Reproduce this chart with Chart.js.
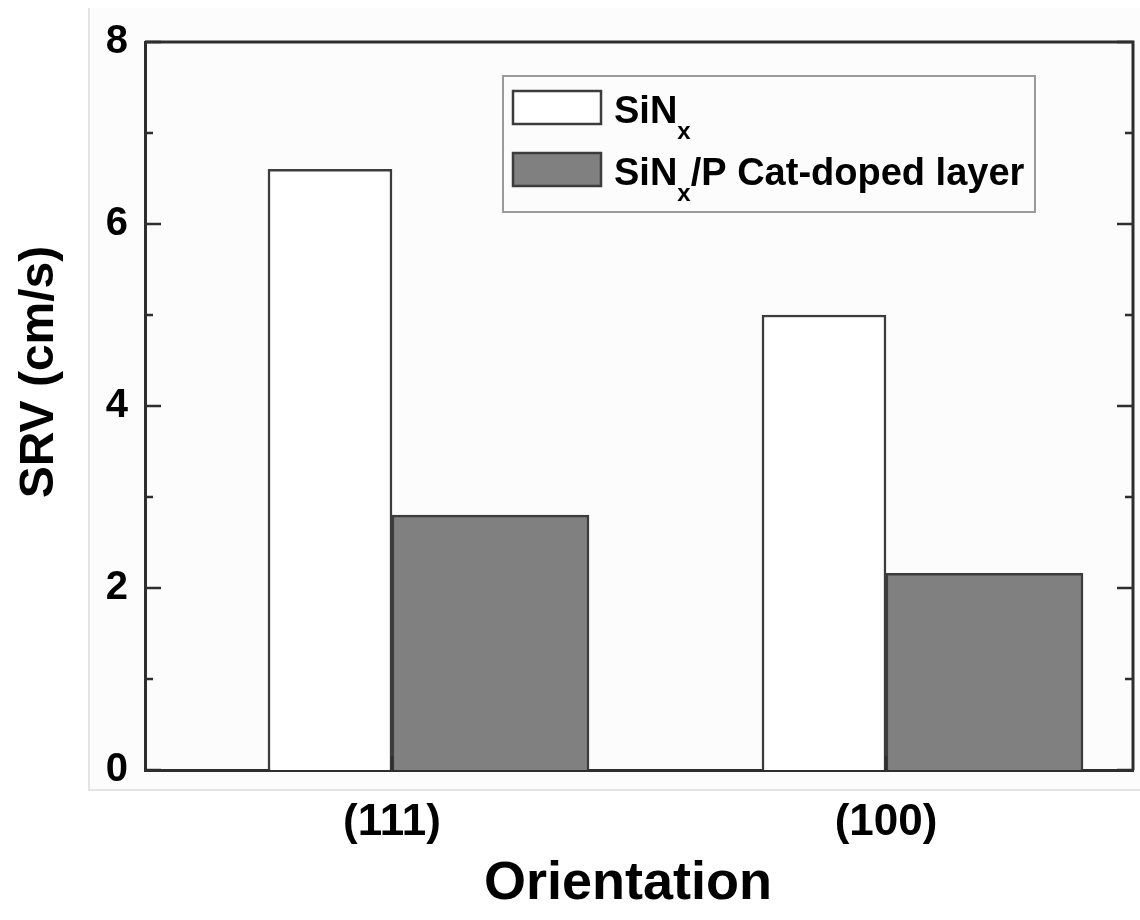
<!DOCTYPE html>
<html>
<head>
<meta charset="utf-8">
<script src="https://cdn.jsdelivr.net/npm/chart.js@4.4.1/dist/chart.umd.min.js"></script>
<style>
  html, body { margin: 0; padding: 0; background: #fff; }
  #wrap { width: 1140px; height: 920px; }
</style>
</head>
<body>
<div id="wrap"><canvas id="srv-chart" width="1140" height="920"></canvas></div>
<script>
  // data
  const categories = ['(111)', '(100)'];
  const sinxSRV = [6.6, 5.0];
  const dopedSRV = [2.8, 2.16];
  const yTicks = [0, 2, 4, 6, 8];
  // "_x" marks a subscript x
  const seriesNames = ['SiN_x', 'SiN_x/P Cat-doped layer'];

  const FONT = 'Arial, "Liberation Sans", Helvetica, sans-serif';
  const AXIS = '#2e2e2e';

  // draws a label where "_x" becomes a subscript
  function drawRich(ctx, text, x, y, size) {
    const parts = text.split('_');
    ctx.textBaseline = 'alphabetic';
    ctx.textAlign = 'left';
    parts.forEach((p, i) => {
      if (i > 0) {
        ctx.font = 'bold ' + Math.round(size * 0.62) + 'px ' + FONT;
        ctx.fillText(p[0], x, y + size * 0.42);
        x += ctx.measureText(p[0]).width;
        p = p.slice(1);
      }
      ctx.font = 'bold ' + size + 'px ' + FONT;
      ctx.fillText(p, x, y);
      x += ctx.measureText(p).width;
    });
  }

  const framePlugin = {
    id: 'frame',
    beforeDraw(chart) {
      const ctx = chart.ctx;
      ctx.save();
      ctx.fillStyle = '#ffffff';
      ctx.fillRect(0, 0, chart.width, chart.height);
      ctx.fillStyle = '#fcfcfc';
      ctx.fillRect(89, 8, chart.width - 89, 782);
      ctx.strokeStyle = '#dcdcdc';
      ctx.lineWidth = 1.5;
      ctx.beginPath();
      ctx.moveTo(89, 8); ctx.lineTo(89, 790); ctx.lineTo(chart.width, 790);
      ctx.stroke();
      ctx.restore();
    },
    afterDraw(chart) {
      const ctx = chart.ctx;
      const a = chart.chartArea;
      const y = chart.scales.y, x = chart.scales.x;
      ctx.save();
      ctx.strokeStyle = AXIS;
      ctx.lineWidth = 3;
      ctx.beginPath();
      ctx.moveTo(a.left, a.top); ctx.lineTo(a.right, a.top); ctx.lineTo(a.right, a.bottom);
      ctx.stroke();
      // inward ticks, minor at odd values
      ctx.lineWidth = 2.5;
      ctx.beginPath();
      for (let v = 0; v <= 8; v++) {
        const py = y.getPixelForValue(v);
        const len = v % 2 === 0 ? 16 : 8;
        ctx.moveTo(a.left, py); ctx.lineTo(a.left + len, py);
        ctx.moveTo(a.right, py); ctx.lineTo(a.right - len, py);
      }
      categories.forEach((c, i) => {
        const px = x.getPixelForValue(i);
        ctx.moveTo(px, a.bottom); ctx.lineTo(px, a.bottom - 14);
      });
      ctx.stroke();

      // axis titles
      ctx.fillStyle = '#000';
      ctx.textAlign = 'center';
      ctx.textBaseline = 'middle';
      ctx.font = 'bold 54px ' + FONT;
      ctx.fillText('Orientation', a.left + 483, 884);
      ctx.font = 'bold 48px ' + FONT;
      ctx.translate(40, 372);
      ctx.rotate(-Math.PI / 2);
      ctx.fillText('SRV (cm/s)', 0, 0);
      ctx.restore();

      // legend
      ctx.save();
      const lx = a.left + 358, ly = a.top + 34;
      ctx.strokeStyle = '#9a9a9a';
      ctx.lineWidth = 2;
      ctx.strokeRect(lx, ly, 532, 136);
      const ds = chart.data.datasets;
      ds.forEach((d, i) => {
        const ry = ly + 15 + i * 62;
        ctx.fillStyle = d.backgroundColor;
        ctx.fillRect(lx + 10, ry, 88, 33);
        ctx.strokeStyle = d.borderColor;
        ctx.lineWidth = 2.5;
        ctx.strokeRect(lx + 10, ry, 88, 33);
        ctx.fillStyle = '#000';
        drawRich(ctx, seriesNames[i], lx + 111, ry + 32, 38);
      });
      ctx.restore();
    }
  };

  new Chart(document.getElementById('srv-chart'), {
    type: 'bar',
    data: {
      labels: categories,
      datasets: [{
        label: 'SiNx',
        data: sinxSRV,
        backgroundColor: '#ffffff',
        borderColor: '#3c3c3c',
        borderWidth: 2.5,
        barThickness: 124
      }, {
        label: 'SiNx/P Cat-doped layer',
        data: dopedSRV,
        backgroundColor: '#808080',
        borderColor: '#3c3c3c',
        borderWidth: 2.5,
        barThickness: 197
      }]
    },
    options: {
      responsive: false,
      animation: false,
      layout: { padding: { left: 0, right: 7, top: 42, bottom: 0 } },
      plugins: { legend: { display: false }, tooltip: { enabled: false } },
      scales: {
        x: {
          offset: true,
          grid: { display: false, drawTicks: false },
          border: { display: true, color: AXIS, width: 3 },
          ticks: { color: '#000', padding: 26, font: { family: FONT, size: 44, weight: 'bold' } },
          afterFit: s => { s.height = 150; }
        },
        y: {
          min: 0, max: 8,
          afterBuildTicks: s => { s.ticks = yTicks.map(v => ({ value: v })); },
          grid: { display: false, drawTicks: false },
          border: { display: true, color: AXIS, width: 3 },
          ticks: { color: '#000', padding: 17, font: { family: FONT, size: 40, weight: 'bold' } },
          afterFit: s => { s.width = 145; }
        }
      }
    },
    plugins: [framePlugin]
  });
</script>
</body>
</html>
